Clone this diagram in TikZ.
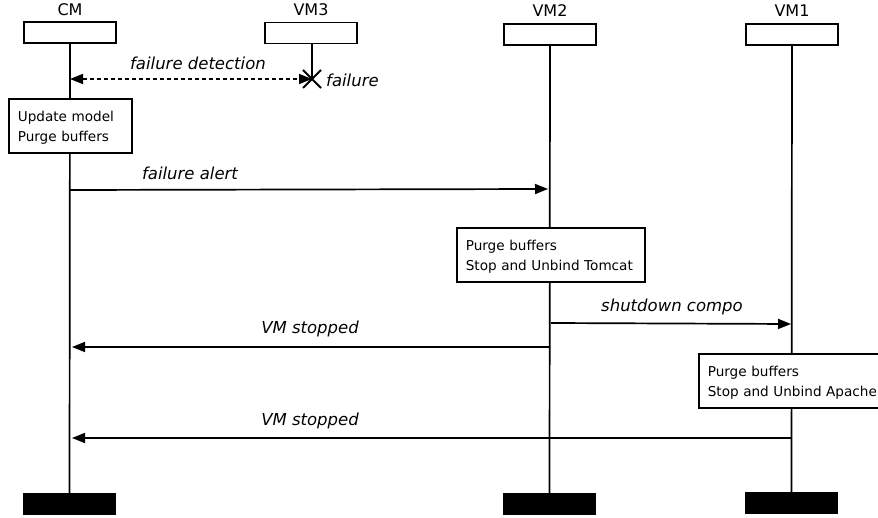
\documentclass[tikz,border=0pt]{standalone}
\usepackage{fontspec}
\setmainfont{DejaVu Sans}
\usetikzlibrary{arrows.meta}
\tikzset{
  head/.style={draw, line width=1.8pt, minimum width=92pt, minimum height=21pt, inner sep=0pt, fill=white},
  hlabel/.style={font=\fontsize{16}{18}\selectfont, inner sep=0pt},
  endbox/.style={fill=black, minimum width=93pt, minimum height=22pt, inner sep=0pt},
  life/.style={line width=1.7pt},
  actbox/.style={draw, line width=1.6pt, fill=white, align=left, inner xsep=9pt, inner ysep=0pt,
    minimum height=54pt, anchor=north west, font=\fontsize{13.6}{20}\selectfont},
  msg/.style={line width=1.7pt, -{Triangle[length=13pt,width=10pt]}},
  msglabel/.style={font=\fontsize{16.5}{19}\selectfont\itshape, inner sep=0pt},
  crossline/.style={line width=1.8pt}
}
\newcommand{\boxstrut}{\rule{0pt}{14pt}}
\begin{document}
\begin{tikzpicture}[x=1pt,y=-1pt]
\useasboundingbox (0,0) rectangle (878,518);
% heads
\node[head] (cm) at (70,32.5) {};
\node[head] (vm3) at (311,33) {};
\node[head] (vm2) at (550,34.5) {};
\node[head] (vm1) at (792,34.5) {};
\node[hlabel] (cmL) at (70,10) {CM};
\node[hlabel] (vm3L) at (311,9.5) {VM3};
\node[hlabel] (vm2L) at (550,11) {VM2};
\node[hlabel] (vm1L) at (792,11) {VM1};
% ends
\node[endbox] (cmE) at (69.5,504) {};
\node[endbox] (vm2E) at (549.5,504) {};
\node[endbox] (vm1E) at (791.5,503) {};
% failure point
\coordinate (fail) at (312,79);
% lifelines
\draw[life] (cm.south) -- (cmE.north);
\draw[life] (vm3.south -| fail) -- (fail);
\draw[life] (vm2.south) -- (vm2E.north);
\draw[life] (vm1.south) -- (vm1E.north);
% activation boxes
\node[actbox, text width=105pt] (b1) at (8,98) {\boxstrut Update model\\Purge buffers};
\node[actbox, text width=170pt] (b2) at (456,227) {\boxstrut Purge buffers\\Stop and Unbind Tomcat};
\node[actbox, text width=200pt] (b3) at (698,353) {\boxstrut Purge buffers\\Stop and Unbind Apache};
% message coordinates
\coordinate (cmA) at (70,79);
\coordinate (cmB) at (70,190);
\coordinate (vm2B) at (548,189);
\coordinate (vm2C) at (551,323);
\coordinate (vm1C) at (791,324);
\coordinate (vm2D) at (549,347);
\coordinate (cmD) at (72,347);
\coordinate (vm1E2) at (792,438);
\coordinate (cmE2) at (72,438);
% failure detection
\draw[line width=1.6pt, dash pattern=on 4pt off 3pt,
  {Triangle[length=13pt,width=10pt]}-{Triangle[length=13pt,width=10pt]}] (cmA) -- (fail);
\draw[crossline] (fail) ++(-9,-9) -- ++(18,18);
\draw[crossline] (fail) ++(-9,9) -- ++(18,-18);
\node[msglabel] (fdL) at (198,63) {failure detection};
\node[msglabel, anchor=west] (fL) at (326,80) {failure};
% messages
\draw[msg] (cmB) -- (vm2B);
\node[msglabel] (faL) at (190,173) {failure alert};
\draw[msg] (vm2C) -- (vm1C);
\node[msglabel] (scL) at (672,307) {shutdown compo};
\draw[msg] (vm2D) -- (cmD);
\node[msglabel] (vs1L) at (310,329) {VM stopped};
\draw[msg] (vm1E2) -- (cmE2);
\node[msglabel] (vs2L) at (310,421) {VM stopped};
\end{tikzpicture}
\end{document}
